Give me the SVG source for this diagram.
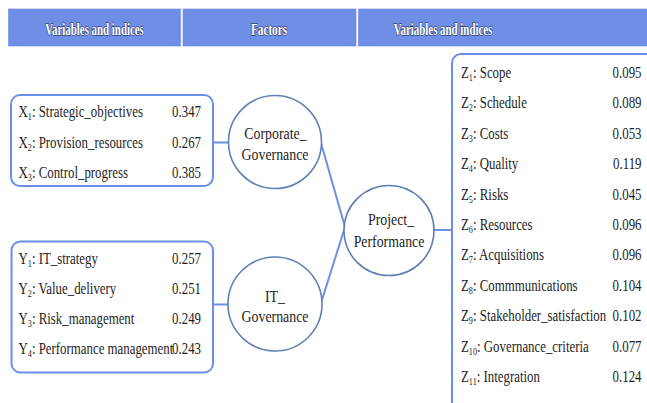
<svg xmlns="http://www.w3.org/2000/svg" width="647" height="403" viewBox="0 0 647 403">
<defs>
<style>
.hdr{fill:#6f8fe6;stroke:#9bb1ee;stroke-width:1}
.box{fill:#fff;stroke:#6a8fe8;stroke-width:2}
.circ{fill:#fff;stroke:#6080b4;stroke-width:1.6}
.conn{stroke:#6f8fe2;stroke-width:2;fill:none}
</style>
</defs>
<rect width="647" height="403" fill="#fff"/>
<g id="headers" font-family="Liberation Serif, serif" font-weight="bold" font-size="17" fill="#fff" text-anchor="middle" stroke="#2f4378" stroke-width="1.3" paint-order="stroke">
<rect class="hdr" x="8.5" y="9" width="172" height="37"/>
<rect class="hdr" x="183" y="9" width="173" height="37"/>
<rect class="hdr" x="358.5" y="9" width="295" height="37"/>
<text transform="translate(94.5,35) scale(0.64,1)">Variables and indices</text>
<text transform="translate(269,35) scale(0.66,1)">Factors</text>
<text transform="translate(443,35) scale(0.64,1)">Variables and indices</text>
</g>
<g id="connectors">
<line class="conn" x1="213" y1="142.5" x2="229" y2="142.5"/>
<line class="conn" x1="213" y1="304.5" x2="229" y2="304.5"/>
<line class="conn" x1="321" y1="143" x2="345" y2="227"/>
<line class="conn" x1="321" y1="303" x2="345" y2="227"/>
<line class="conn" x1="433" y1="230" x2="452" y2="230"/>
</g>
<g id="box-x" font-family="Liberation Serif, serif" font-size="16.5" fill="#1e1e1e">
<rect class="box" x="11" y="95" width="202" height="91" rx="9"/>
<text transform="translate(18.5,117) scale(0.78,1)">X<tspan font-size="10.5" dy="3">1</tspan><tspan dy="-3">: Strategic_objectives</tspan></text>
<text transform="translate(18.5,147.5) scale(0.78,1)">X<tspan font-size="10.5" dy="3">2</tspan><tspan dy="-3">: Provision_resources</tspan></text>
<text transform="translate(18.5,178) scale(0.78,1)">X<tspan font-size="10.5" dy="3">3</tspan><tspan dy="-3">: Control_progress</tspan></text>
<g text-anchor="end">
<text transform="translate(201,117) scale(0.78,1)">0.347</text>
<text transform="translate(201,147.5) scale(0.78,1)">0.267</text>
<text transform="translate(201,178) scale(0.78,1)">0.385</text>
</g>
</g>
<g id="box-y" font-family="Liberation Serif, serif" font-size="16.5" fill="#1e1e1e">
<rect class="box" x="11.5" y="241.5" width="201.5" height="131" rx="9"/>
<text transform="translate(18.5,264) scale(0.78,1)">Y<tspan font-size="10.5" dy="3">1</tspan><tspan dy="-3">: IT_strategy</tspan></text>
<text transform="translate(18.5,294) scale(0.78,1)">Y<tspan font-size="10.5" dy="3">2</tspan><tspan dy="-3">: Value_delivery</tspan></text>
<text transform="translate(18.5,324) scale(0.78,1)">Y<tspan font-size="10.5" dy="3">3</tspan><tspan dy="-3">: Risk_management</tspan></text>
<text transform="translate(18.5,354) scale(0.78,1)">Y<tspan font-size="10.5" dy="3">4</tspan><tspan dy="-3">: Performance management</tspan></text>
<g text-anchor="end">
<text transform="translate(201,264) scale(0.78,1)">0.257</text>
<text transform="translate(201,294) scale(0.78,1)">0.251</text>
<text transform="translate(201,324) scale(0.78,1)">0.249</text>
<text transform="translate(201,354) scale(0.78,1)">0.243</text>
</g>
</g>
<g id="corporate-governance" font-family="Liberation Serif, serif" font-size="16.5" fill="#1e1e1e" text-anchor="middle">
<circle class="circ" cx="275" cy="142" r="46.5"/>
<text transform="translate(275.5,139) scale(0.84,1)">Corporate_</text>
<text transform="translate(275,160) scale(0.84,1)">Governance</text>
</g>
<g id="it-governance" font-family="Liberation Serif, serif" font-size="16.5" fill="#1e1e1e" text-anchor="middle">
<circle class="circ" cx="275" cy="304" r="47"/>
<text transform="translate(275,302) scale(0.84,1)">IT_</text>
<text transform="translate(275,322) scale(0.84,1)">Governance</text>
</g>
<g id="project-performance" font-family="Liberation Serif, serif" font-size="16.5" fill="#1e1e1e" text-anchor="middle">
<circle class="circ" cx="389" cy="230.5" r="45"/>
<text transform="translate(391,225) scale(0.84,1)">Project_</text>
<text transform="translate(389,247) scale(0.84,1)">Performance</text>
</g>
<g id="box-z" font-family="Liberation Serif, serif" font-size="16.5" fill="#1e1e1e">
<rect class="box" x="452" y="54" width="210" height="360" rx="9"/>
<text transform="translate(461,78) scale(0.78,1)">Z<tspan font-size="10.5" dy="3">1</tspan><tspan dy="-3">: Scope</tspan></text>
<text transform="translate(461,108.4) scale(0.78,1)">Z<tspan font-size="10.5" dy="3">2</tspan><tspan dy="-3">: Schedule</tspan></text>
<text transform="translate(461,138.8) scale(0.78,1)">Z<tspan font-size="10.5" dy="3">3</tspan><tspan dy="-3">: Costs</tspan></text>
<text transform="translate(461,169.2) scale(0.78,1)">Z<tspan font-size="10.5" dy="3">4</tspan><tspan dy="-3">: Quality</tspan></text>
<text transform="translate(461,199.6) scale(0.78,1)">Z<tspan font-size="10.5" dy="3">5</tspan><tspan dy="-3">: Risks</tspan></text>
<text transform="translate(461,230) scale(0.78,1)">Z<tspan font-size="10.5" dy="3">6</tspan><tspan dy="-3">: Resources</tspan></text>
<text transform="translate(461,260.4) scale(0.78,1)">Z<tspan font-size="10.5" dy="3">7</tspan><tspan dy="-3">: Acquisitions</tspan></text>
<text transform="translate(461,290.8) scale(0.78,1)">Z<tspan font-size="10.5" dy="3">8</tspan><tspan dy="-3">: Commmunications</tspan></text>
<text transform="translate(461,321.2) scale(0.78,1)">Z<tspan font-size="10.5" dy="3">9</tspan><tspan dy="-3">: Stakeholder_satisfaction</tspan></text>
<text transform="translate(461,351.6) scale(0.78,1)">Z<tspan font-size="10.5" dy="3">10</tspan><tspan dy="-3">: Governance_criteria</tspan></text>
<text transform="translate(461,382) scale(0.78,1)">Z<tspan font-size="10.5" dy="3">11</tspan><tspan dy="-3">: Integration</tspan></text>
<g text-anchor="end">
<text transform="translate(641.5,78) scale(0.78,1)">0.095</text>
<text transform="translate(641.5,108.4) scale(0.78,1)">0.089</text>
<text transform="translate(641.5,138.8) scale(0.78,1)">0.053</text>
<text transform="translate(641.5,169.2) scale(0.78,1)">0.119</text>
<text transform="translate(641.5,199.6) scale(0.78,1)">0.045</text>
<text transform="translate(641.5,230) scale(0.78,1)">0.096</text>
<text transform="translate(641.5,260.4) scale(0.78,1)">0.096</text>
<text transform="translate(641.5,290.8) scale(0.78,1)">0.104</text>
<text transform="translate(641.5,321.2) scale(0.78,1)">0.102</text>
<text transform="translate(641.5,351.6) scale(0.78,1)">0.077</text>
<text transform="translate(641.5,382) scale(0.78,1)">0.124</text>
</g>
</g>
</svg>
